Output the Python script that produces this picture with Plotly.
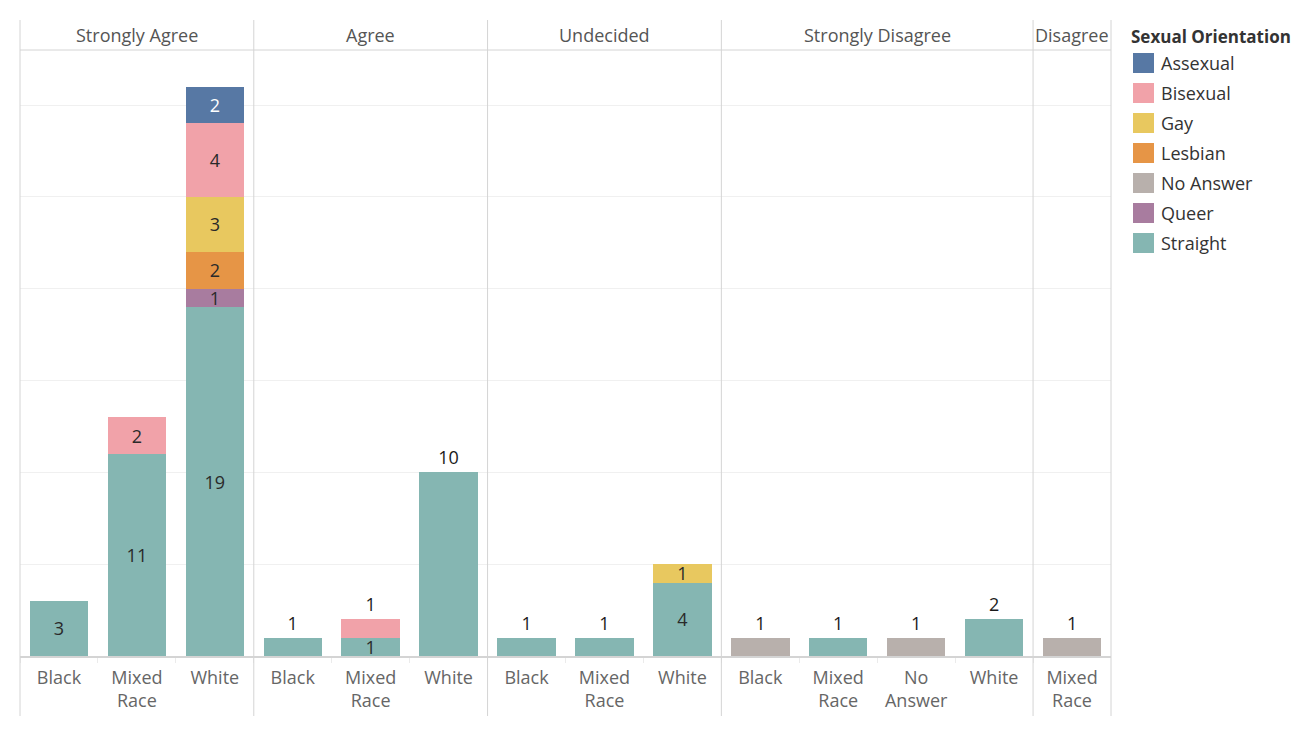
import plotly.graph_objects as go
from plotly.subplots import make_subplots

#   Data
agreement = ["Strongly Agree", "Agree", "Undecided", "Strongly Disagree", "Disagree"]
panel_races = [
    ["Black", "Mixed Race", "White"],
    ["Black", "Mixed Race", "White"],
    ["Black", "Mixed Race", "White"],
    ["Black", "Mixed Race", "No Answer", "White"],
    ["Mixed Race"],
]

# stacking order, bottom to top
orientations = ["Straight", "Queer", "No Answer", "Lesbian", "Gay", "Bisexual", "Assexual"]
straight = [[3, 11, 19], [1, 1, 10], [1, 1, 4], [0, 1, 0, 2], [0]]
queer = [[0, 0, 1], [0, 0, 0], [0, 0, 0], [0, 0, 0, 0], [0]]
no_answer = [[0, 0, 0], [0, 0, 0], [0, 0, 0], [1, 0, 1, 0], [1]]
lesbian = [[0, 0, 2], [0, 0, 0], [0, 0, 0], [0, 0, 0, 0], [0]]
gay = [[0, 0, 3], [0, 0, 0], [0, 0, 1], [0, 0, 0, 0], [0]]
bisexual = [[0, 2, 4], [0, 1, 0], [0, 0, 0], [0, 0, 0, 0], [0]]
assexual = [[0, 0, 2], [0, 0, 0], [0, 0, 0], [0, 0, 0, 0], [0]]
counts = [straight, queer, no_answer, lesbian, gay, bisexual, assexual]

# legend order (top to bottom)
legend_order = ["Assexual", "Bisexual", "Gay", "Lesbian", "No Answer", "Queer", "Straight"]

#   Styling
colors = {
    "Assexual": "#5778a4",
    "Bisexual": "#f1a2a9",
    "Gay": "#e8c85f",
    "Lesbian": "#e69546",
    "No Answer": "#b8b0ac",
    "Queer": "#a87c9f",
    "Straight": "#85b6b2",
}
# bars whose top label is drawn above the bar
labels_above = {
    ("Agree", "Black"), ("Agree", "Mixed Race"), ("Agree", "White"),
    ("Undecided", "Black"), ("Undecided", "Mixed Race"),
    ("Strongly Disagree", "Black"), ("Strongly Disagree", "Mixed Race"),
    ("Strongly Disagree", "No Answer"), ("Strongly Disagree", "White"),
    ("Disagree", "Mixed Race"),
}
FONT = "Open Sans"
LINE = "#d4d4d4"
SIZE = 18
widths = [len(r) for r in panel_races]

fig = make_subplots(rows=1, cols=len(agreement), column_widths=widths,
                    shared_yaxes=True, horizontal_spacing=0)

for i, panel in enumerate(agreement):
    races = panel_races[i]
    # topmost non-empty segment of each bar
    top = []
    for j in range(len(races)):
        k_top = max(k for k in range(len(orientations)) if counts[k][i][j])
        top.append(k_top)
    for k, name in enumerate(orientations):
        vals = [v if v else None for v in counts[k][i]]
        pos = ["outside" if (panel, r) in labels_above and top[j] == k else "inside"
               for j, r in enumerate(races)]
        fig.add_trace(go.Bar(
            x=[r.replace(" ", "<br>") for r in races],
            y=vals,
            name=name,
            marker=dict(color=colors[name], line=dict(width=0)),
            texttemplate="%{y}",
            textposition=pos,
            insidetextanchor="middle",
            constraintext="none",
            textangle=0,
            insidetextfont=dict(family=FONT, size=SIZE,
                                color="white" if name == "Assexual" else "#2a2a2a"),
            outsidetextfont=dict(family=FONT, size=SIZE, color="#1a1a1a"),
            cliponaxis=False,
            showlegend=False,
            hoverinfo="skip",
        ), row=1, col=i + 1)

# the page body adds an 8px offset, margins compensate for it
fig.update_layout(
    barmode="stack",
    bargap=0.25,
    width=1304, height=734,
    margin=dict(l=12, r=201, t=42, b=86),
    plot_bgcolor="white", paper_bgcolor="white",
    font=dict(family=FONT, size=SIZE, color="#555555"),
)
fig.update_yaxes(range=[0, 33], dtick=5, showticklabels=False, showgrid=True,
                 gridcolor="#f0f0f0", gridwidth=1, zeroline=False, ticks="")
fig.update_xaxes(showline=True, linecolor=LINE, linewidth=2, ticks="outside",
                 tickson="boundaries", ticklen=5, tickcolor="#ebebeb",
                 ticklabelstandoff=4,
                 tickfont=dict(family=FONT, size=SIZE, color="#666666"),
                 showgrid=False)

#   Panel frames and headers
total = sum(widths)
edges = [0]
for w in widths:
    edges.append(edges[-1] + w)
y_bottom = -60 / 606
y_top = 1 + 30 / 606
for e in edges:
    fig.add_shape(type="line", xref="paper", yref="paper", x0=e / total, x1=e / total,
                  y0=y_bottom, y1=y_top, line=dict(color=LINE, width=1))
fig.add_shape(type="line", xref="paper", yref="paper", x0=0, x1=1, y0=1, y1=1,
              line=dict(color=LINE, width=1))
for i, panel in enumerate(agreement):
    fig.add_annotation(text=panel, xref="paper", yref="paper",
                       x=(edges[i] + edges[i + 1]) / 2 / total, y=1, yshift=15,
                       xanchor="center", yanchor="middle", showarrow=False,
                       font=dict(family=FONT, size=SIZE, color="#555555"))

#   Legend drawn as swatches
fig.add_annotation(text="<b>Sexual Orientation</b>", xref="paper", yref="paper",
                   x=1, y=1, xshift=18, yshift=14, xanchor="left", yanchor="middle",
                   showarrow=False, font=dict(family=FONT, size=17, color="#333333"))
for n, name in enumerate(legend_order):
    off = -13 - 30 * n
    fig.add_shape(type="rect", xref="paper", yref="paper",
                  xsizemode="pixel", ysizemode="pixel", xanchor=1, yanchor=1,
                  x0=22, x1=43, y0=off - 10, y1=off + 10,
                  fillcolor=colors[name], line=dict(width=0))
    fig.add_annotation(text=name, xref="paper", yref="paper", x=1, y=1,
                       xshift=48, yshift=off, xanchor="left", yanchor="middle",
                       showarrow=False, font=dict(family=FONT, size=SIZE, color="#333333"))

fig.write_html("out.html")
